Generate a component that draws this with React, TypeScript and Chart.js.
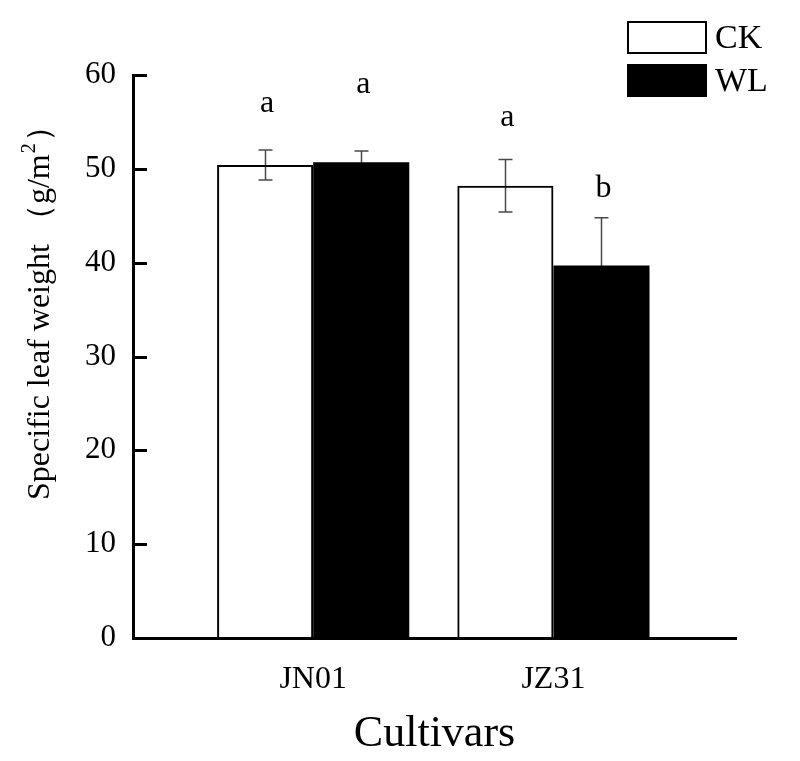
import { useEffect, useRef } from 'react';
import { Chart, registerables } from 'chart.js';

Chart.register(...registerables);

const FONT = '"Liberation Serif", "Times New Roman", Times, serif';

const cultivars = ['JN01', 'JZ31'];
const ckMeans = [50.4, 48.2];
const ckErr = [1.6, 2.8];
const wlMeans = [50.7, 39.7];
const wlErr = [1.2, 5.1];
const ckLetters = ['a', 'a'];
const wlLetters = ['a', 'b'];
const ckLetterY = [56.1, 54.6];
const wlLetterY = [58.1, 47.0];
const yMin = 0;
const yMax = 60;
const yStep = 10;

const errs = [ckErr, wlErr];
const means = [ckMeans, wlMeans];
const letters = [ckLetters, wlLetters];
const letterY = [ckLetterY, wlLetterY];

const annotPlugin = {
  id: 'annot',
  beforeDatasetsDraw(chart: any) {
    const ctx = chart.ctx;
    const ys = chart.scales.y;
    ctx.save();
    for (let d = 0; d < 2; d++) {
      const meta = chart.getDatasetMeta(d);
      meta.data.forEach((bar: any, i: number) => {
        const x = Math.round(bar.x) + 0.5;
        const top = ys.getPixelForValue(means[d][i] + errs[d][i]);
        const bot = ys.getPixelForValue(means[d][i] - errs[d][i]);
        ctx.strokeStyle = '#4a4a4a';
        ctx.lineWidth = 1.5;
        ctx.beginPath();
        ctx.moveTo(x, top);
        ctx.lineTo(x, bot);
        ctx.moveTo(x - 7, top);
        ctx.lineTo(x + 7, top);
        ctx.moveTo(x - 7, bot);
        ctx.lineTo(x + 7, bot);
        ctx.stroke();
      });
    }
    ctx.restore();
  },
  afterDatasetsDraw(chart: any) {
    const ctx = chart.ctx;
    const ys = chart.scales.y;
    ctx.save();
    for (let d = 0; d < 2; d++) {
      const meta = chart.getDatasetMeta(d);
      meta.data.forEach((bar: any, i: number) => {
        ctx.fillStyle = '#000';
        ctx.font = `32px ${FONT}`;
        ctx.textAlign = 'center';
        ctx.textBaseline = 'alphabetic';
        ctx.fillText(letters[d][i], bar.x + 2, ys.getPixelForValue(letterY[d][i]));
      });
    }
    ctx.restore();
  },
  afterDraw(chart: any) {
    const ctx = chart.ctx;
    const ys = chart.scales.y;
    const area = chart.chartArea;
    ctx.save();
    // inward tick marks
    ctx.strokeStyle = '#000';
    ctx.lineWidth = 3;
    ctx.beginPath();
    for (let v = yMin; v <= yMax; v += yStep) {
      const y = Math.round(ys.getPixelForValue(v)) + 0.5;
      ctx.moveTo(area.left, y);
      ctx.lineTo(area.left + 14, y);
    }
    ctx.stroke();

    // y title
    ctx.fillStyle = '#000';
    ctx.save();
    ctx.translate(49, 500);
    ctx.rotate(-Math.PI / 2);
    ctx.textAlign = 'left';
    ctx.textBaseline = 'alphabetic';
    ctx.font = `32px ${FONT}`;
    const t1 = 'Specific leaf weight （g/m';
    ctx.fillText(t1, 0, 0);
    let w = ctx.measureText(t1).width;
    ctx.font = `20px ${FONT}`;
    ctx.fillText('2', w + 1, -14);
    w += ctx.measureText('2').width + 2;
    ctx.font = `32px ${FONT}`;
    ctx.fillText('）', w, 0);
    ctx.restore();

    // x title
    ctx.font = `44px ${FONT}`;
    ctx.textAlign = 'center';
    ctx.textBaseline = 'alphabetic';
    ctx.fillText('Cultivars', (area.left + area.right) / 2, 746);

    // legend
    const ds = chart.data.datasets;
    ds.forEach((d: any, i: number) => {
      const by = 22 + i * 43;
      ctx.fillStyle = d.backgroundColor;
      ctx.fillRect(628, by, 78, 31);
      ctx.strokeStyle = '#000';
      ctx.lineWidth = 2;
      ctx.strokeRect(628, by, 78, 31);
      ctx.fillStyle = '#000';
      ctx.font = `34px ${FONT}`;
      ctx.textAlign = 'left';
      ctx.fillText(d.label, 715, by + 26);
    });
    ctx.restore();
  },
};

export default function App() {
  const ref = useRef<HTMLCanvasElement>(null);
  useEffect(() => {
    document.body.style.margin = '0';
    const chart = new Chart(ref.current as HTMLCanvasElement, {
      type: 'bar',
      data: {
        datasets: [
          {
            label: 'CK',
            data: ckMeans.map((y, i) => ({ x: i, y })),
            backgroundColor: 'rgba(255,255,255,0)',
            borderColor: '#000000',
            borderWidth: 2,
            categoryPercentage: 0.8,
            barPercentage: 1,
          },
          {
            label: 'WL',
            data: wlMeans.map((y, i) => ({ x: i, y })),
            backgroundColor: '#000000',
            borderColor: '#000000',
            borderWidth: 0,
            categoryPercentage: 0.8,
            barPercentage: 1,
          },
        ],
      } as any,
      options: {
        animation: false,
        responsive: false,
        layout: { padding: { left: 0, top: 75, right: 64, bottom: 0 } },
        scales: {
          x: {
            type: 'linear',
            min: -0.75,
            max: 1.76,
            offset: false,
            afterBuildTicks: (s: any) => {
              s.ticks = cultivars.map((_, i) => ({ value: i }));
            },
            afterFit: (s: any) => {
              s.height = 123;
            },
            ticks: {
              callback: (v: any) => cultivars[v as number] ?? '',
              font: { family: FONT, size: 32 },
              color: '#000',
              padding: 22,
              autoSkip: false,
              maxRotation: 0,
            },
            grid: { display: false, drawTicks: false },
            border: { display: true, color: '#000', width: 3 },
          },
          y: {
            min: yMin,
            max: yMax,
            afterFit: (s: any) => {
              s.width = 133;
            },
            ticks: {
              stepSize: yStep,
              font: { family: FONT, size: 31 },
              color: '#000',
              padding: 17,
            },
            grid: { display: false, drawTicks: false },
            border: { display: true, color: '#000', width: 3 },
          },
        },
        plugins: { legend: { display: false }, tooltip: { enabled: false } },
      } as any,
      plugins: [annotPlugin],
    });
    return () => chart.destroy();
  }, []);
  return <canvas ref={ref} width={800} height={761} style={{ display: 'block' }} />;
}
